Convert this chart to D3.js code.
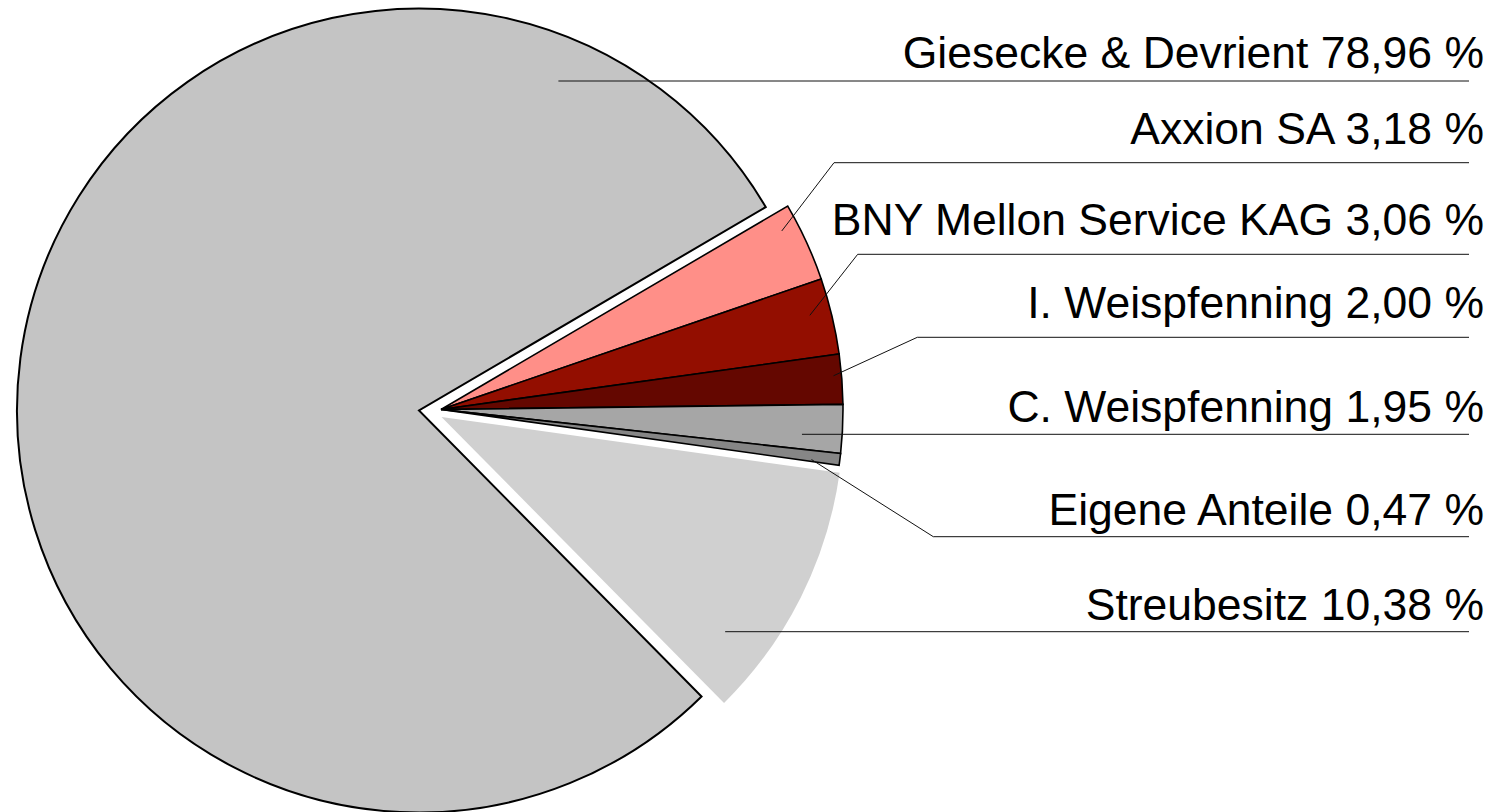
<!DOCTYPE html>
<html>
<head>
<meta charset="utf-8">
<script src="https://cdn.jsdelivr.net/npm/d3@7"></script>
<style>
  html, body { margin: 0; padding: 0; background: #fff; }
  svg { display: block; }
</style>
</head>
<body>
<svg id="chart" width="1499" height="812"></svg>
<script>
// data
var names = ['Giesecke & Devrient', 'Axxion SA', 'BNY Mellon Service KAG', 'I. Weispfenning', 'C. Weispfenning', 'Eigene Anteile', 'Streubesitz'];
var shares = [78.96, 3.18, 3.06, 2.00, 1.95, 0.47, 10.38];

// look
var colors = ['#c4c4c4', '#ff8f88', '#930e00', '#640700', '#a6a6a6', '#868686', '#d0d0d0'];
var strokes = ['#000', '#000', '#000', '#000', '#000', '#000', 'none'];
var strokeW = [2, 1.6, 1.6, 1.6, 1.6, 1.6, 0];
// slice pulled out of the pie, in px
var explode = [[-22, 1], [0, 0], [0, 0], [0, 0], [0, 0], [0, 0], [0.5, 7.5]];
// where the leader line leaves the slice: fraction of the slice angle, fraction of radius
var leadT = [0.871, 0.24, 0.42, 0.42, 0.66, 0.83, 0.78];
var leadK = [0.89, 0.957, 0.947, 0.98, 0.90, 0.93, 0.885];
// label rows
var lineY = [81, 162.7, 254.3, 337.3, 434.3, 536.7, 631.7];
var textY = [68.3, 144, 235, 317.7, 422.3, 525, 620];
var elbowX = [null, 834, 857.7, 917.3, null, 933.3, null];

var cx = 441, cy = 409.5, radius = 402;
var lineEnd = 1469, textEnd = 1484;
var secondStartDeg = 59.6;   // angle where 'Axxion SA' begins, clockwise from 12 o'clock

var svg = d3.select('#chart');
var total = d3.sum(shares);
var start = secondStartDeg * Math.PI / 180 - 2 * Math.PI * shares[0] / total;

var pie = d3.pie().sort(null).value(function(d) { return d; })
  .startAngle(start).endAngle(start + 2 * Math.PI);
var arcs = pie(shares);

var arc = d3.arc().innerRadius(0).outerRadius(radius);

var g = svg.append('g').attr('transform', 'translate(' + cx + ',' + cy + ')');

g.selectAll('path.slice')
  .data(arcs)
  .enter().append('path')
  .attr('class', 'slice')
  .attr('d', arc)
  .attr('transform', function(d, i) { return 'translate(' + explode[i][0] + ',' + explode[i][1] + ')'; })
  .attr('fill', function(d, i) { return colors[i]; })
  .attr('stroke', function(d, i) { return strokes[i]; })
  .attr('stroke-width', function(d, i) { return strokeW[i]; })
  .attr('stroke-linejoin', 'miter');

// leader lines
function leaderPoints(d, i) {
  var a = d.startAngle + (d.endAngle - d.startAngle) * leadT[i];
  var r = radius * leadK[i];
  var x0 = cx + explode[i][0] + r * Math.sin(a);
  var y0 = cy + explode[i][1] - r * Math.cos(a);
  var pts = [];
  if (elbowX[i] === null) {
    pts.push([x0, lineY[i]]);
  } else {
    pts.push([x0, y0]);
    pts.push([elbowX[i], lineY[i]]);
  }
  pts.push([lineEnd, lineY[i]]);
  return pts;
}

svg.selectAll('path.leader')
  .data(arcs)
  .enter().append('path')
  .attr('class', 'leader')
  .attr('d', function(d, i) { return d3.line()(leaderPoints(d, i)); })
  .attr('fill', 'none')
  .attr('stroke', '#111')
  .attr('stroke-width', 1);

var fmt = d3.format('.2f');
svg.selectAll('text.label')
  .data(arcs)
  .enter().append('text')
  .attr('class', 'label')
  .attr('x', textEnd)
  .attr('y', function(d, i) { return textY[i]; })
  .attr('text-anchor', 'end')
  .attr('font-family', '"Liberation Sans", Arial, sans-serif')
  .attr('font-size', 44.5)
  .attr('fill', '#000')
  .text(function(d, i) { return names[i] + ' ' + fmt(shares[i]).replace('.', ',') + ' %'; });
</script>
</body>
</html>
